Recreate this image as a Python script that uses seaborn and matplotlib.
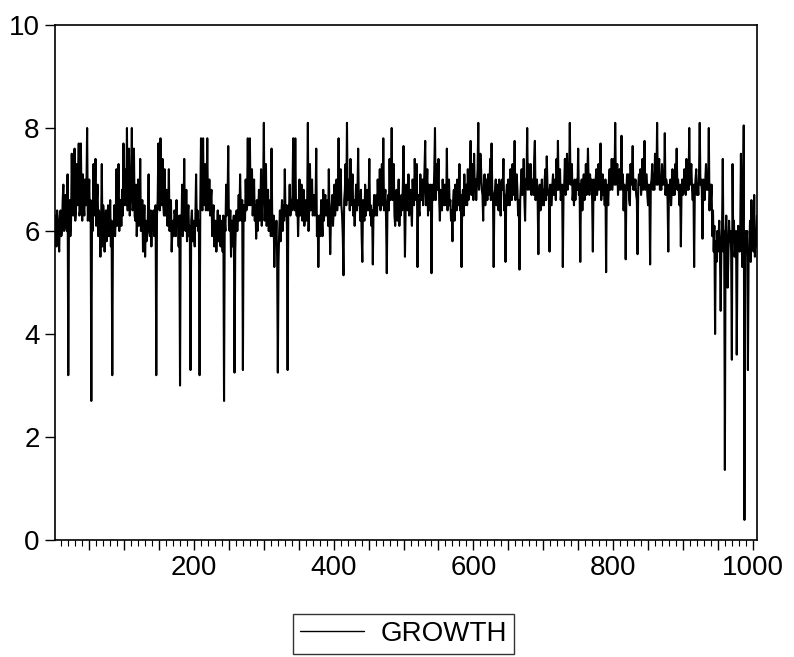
import numpy as np
import pandas as pd
import matplotlib
matplotlib.use("Agg")
import matplotlib.pyplot as plt
from matplotlib.ticker import MultipleLocator, FuncFormatter
import seaborn as sns

obs_001_100 = [6.3, 5.9, 5.7, 6.4, 6.2, 5.8, 5.6, 6.3, 6.4, 5.9,
               6.0, 6.6, 6.9, 6.0, 6.1, 6.7, 6.5, 6.0, 7.1, 3.2,
               6.2, 6.6, 5.9, 6.2, 7.5, 6.4, 6.3, 7.0, 7.6, 6.2,
               6.4, 7.3, 6.5, 6.9, 7.7, 6.3, 6.4, 7.7, 6.6, 6.2,
               7.1, 6.5, 6.3, 7.0, 6.5, 6.8, 8.0, 6.2, 6.5, 7.0,
               6.2, 6.6, 2.7, 6.4, 6.0, 7.3, 6.3, 6.7, 7.4, 6.1,
               6.6, 6.9, 5.9, 6.4, 6.2, 5.5, 6.1, 7.3, 5.7, 6.5,
               6.3, 5.6, 6.0, 6.4, 5.8, 6.2, 6.5, 5.9, 6.0, 6.6,
               5.7, 6.2, 3.2, 6.1, 6.0, 6.5, 5.9, 6.3, 7.2, 6.1,
               6.6, 7.3, 6.0, 6.4, 6.6, 6.1, 6.8, 6.3, 7.7, 6.5]
obs_101_200 = [7.2, 6.6, 6.5, 8.0, 6.4, 6.7, 7.6, 6.3, 6.6, 6.9,
               8.0, 6.4, 6.5, 7.6, 6.3, 6.2, 6.9, 5.9, 6.3, 7.0,
               6.1, 6.4, 7.4, 6.0, 6.2, 6.6, 5.6, 6.0, 6.5, 5.5,
               6.2, 5.8, 5.9, 6.3, 7.1, 6.0, 5.9, 6.4, 5.7, 6.3,
               6.0, 6.4, 5.9, 6.2, 6.5, 3.2, 6.3, 6.6, 7.7, 6.5,
               6.4, 7.8, 6.6, 6.5, 7.4, 6.5, 6.3, 7.2, 6.3, 6.6,
               6.8, 6.1, 6.4, 7.2, 6.0, 6.3, 6.6, 5.6, 6.0, 6.2,
               5.9, 6.4, 6.3, 5.9, 6.6, 6.1, 6.2, 5.7, 6.3, 3.0,
               6.3, 6.0, 6.9, 5.9, 6.2, 7.4, 6.2, 6.0, 6.8, 5.8,
               6.3, 6.5, 5.9, 6.1, 3.3, 6.2, 6.4, 5.8, 6.2, 6.0]
obs_201_300 = [5.7, 6.3, 7.1, 6.1, 6.4, 6.0, 6.2, 3.2, 6.5, 7.8,
               6.6, 6.4, 7.8, 6.5, 6.8, 7.3, 6.4, 6.6, 7.8, 6.4,
               6.5, 7.0, 6.3, 6.6, 6.8, 5.9, 6.3, 6.5, 5.7, 6.1,
               6.2, 5.6, 6.0, 6.4, 5.8, 6.1, 6.3, 5.7, 6.2, 6.0,
               5.6, 6.3, 2.7, 6.2, 6.0, 6.9, 6.3, 6.5, 7.65, 6.1,
               6.0, 6.4, 5.5, 6.2, 5.7, 6.1, 6.3, 3.25, 5.6, 6.2,
               6.4, 6.0, 6.3, 6.7, 6.2, 7.1, 6.4, 6.2, 6.6, 3.3,
               6.5, 6.3, 6.2, 7.0, 6.4, 6.6, 7.8, 6.5, 6.6, 7.8,
               6.5, 6.8, 7.2, 6.3, 6.6, 7.0, 6.2, 6.5, 5.85, 6.6,
               6.0, 6.4, 6.8, 6.2, 6.5, 7.2, 6.1, 6.6, 6.9, 8.1]
obs_301_400 = [6.2, 6.5, 7.3, 6.1, 6.4, 6.8, 6.0, 6.3, 6.6, 5.9,
               7.6, 6.2, 5.9, 6.3, 5.3, 6.1, 5.8, 6.2, 5.5, 3.25,
               5.4, 6.0, 6.4, 5.8, 6.3, 6.6, 6.0, 6.5, 6.2, 7.2,
               6.3, 6.5, 6.1, 3.3, 6.5, 6.4, 6.9, 6.3, 6.6, 6.4,
               6.7, 7.8, 6.6, 6.4, 7.8, 6.5, 6.3, 6.6, 5.9, 6.4,
               7.0, 6.3, 6.6, 6.9, 6.2, 6.5, 6.8, 6.1, 6.4, 6.6,
               6.2, 6.5, 8.1, 6.0, 6.5, 7.3, 6.4, 6.6, 7.0, 6.3,
               6.4, 6.7, 6.3, 6.5, 7.6, 5.9, 6.3, 5.3, 6.1, 6.3,
               5.9, 6.6, 6.2, 5.9, 6.8, 6.2, 6.5, 6.7, 6.3, 6.4,
               6.6, 6.1, 7.2, 6.3, 5.55, 6.2, 6.5, 6.7, 6.1, 6.4]
obs_401_500 = [6.9, 6.3, 6.6, 7.0, 6.4, 6.7, 7.8, 6.5, 6.6, 7.2,
               6.5, 6.3, 5.9, 5.14, 6.6, 6.8, 7.3, 6.5, 8.1, 6.6,
               6.7, 7.0, 6.4, 7.4, 6.5, 6.8, 7.1, 6.3, 6.6, 6.1,
               6.5, 6.9, 6.4, 6.7, 7.6, 6.5, 6.6, 6.2, 6.8, 5.9,
               5.4, 6.6, 6.3, 6.2, 6.9, 6.3, 6.6, 6.8, 6.4, 6.6,
               7.4, 6.3, 6.5, 6.1, 6.4, 5.35, 6.4, 6.7, 6.3, 6.5,
               6.7, 6.3, 7.0, 6.5, 6.6, 7.2, 6.4, 6.8, 7.3, 6.5,
               7.8, 6.4, 6.6, 6.8, 6.2, 5.18, 6.5, 6.7, 6.4, 7.4,
               6.6, 6.9, 8.0, 6.6, 6.7, 7.3, 6.3, 6.1, 6.5, 6.8,
               6.2, 6.5, 7.0, 6.1, 6.6, 6.3, 6.7, 6.4, 6.9, 7.65]
obs_501_600 = [6.5, 5.5, 6.4, 6.9, 6.6, 6.4, 7.1, 6.3, 6.7, 6.8,
               6.4, 6.1, 7.0, 6.6, 6.5, 7.4, 6.8, 6.6, 7.3, 5.3,
               6.7, 6.4, 6.3, 7.1, 6.6, 6.7, 7.0, 6.5, 6.8, 7.2,
               7.75, 6.5, 6.8, 7.2, 6.3, 6.9, 6.6, 6.4, 6.9, 5.18,
               6.7, 6.9, 6.6, 7.2, 8.0, 6.6, 6.9, 7.3, 6.8, 7.4,
               6.6, 6.2, 6.8, 6.5, 6.4, 7.0, 6.6, 6.5, 6.9, 6.7,
               6.5, 7.6, 6.4, 6.8, 7.0, 6.5, 6.6, 6.2, 6.4, 5.8,
               6.6, 6.8, 6.2, 6.9, 6.7, 6.4, 7.0, 6.6, 6.5, 7.3,
               6.4, 6.7, 5.3, 6.6, 6.8, 6.3, 7.1, 6.5, 6.7, 6.9,
               6.5, 7.2, 6.6, 6.8, 7.2, 7.75, 6.7, 6.9, 7.3, 6.6]
obs_601_700 = [7.5, 6.8, 7.0, 6.6, 6.9, 7.2, 8.1, 6.8, 7.0, 7.5,
               7.2, 6.8, 6.7, 6.2, 6.9, 7.1, 6.5, 6.8, 7.0, 6.6,
               7.1, 6.7, 6.8, 7.4, 6.6, 7.7, 6.8, 6.7, 5.3, 6.6,
               6.8, 7.0, 6.5, 6.9, 6.6, 6.4, 7.0, 6.7, 6.3, 6.9,
               7.0, 6.8, 7.4, 6.4, 6.7, 5.4, 6.7, 6.9, 6.5, 7.0,
               6.6, 6.5, 7.2, 6.8, 6.6, 7.3, 6.7, 6.9, 7.75, 6.6,
               6.7, 7.1, 6.8, 6.3, 6.6, 5.25, 6.6, 6.9, 7.2, 6.7,
               6.8, 7.4, 6.6, 6.2, 7.0, 6.9, 8.0, 6.8, 7.3, 6.9,
               6.8, 7.3, 6.7, 7.0, 6.9, 6.7, 7.4, 7.75, 6.6, 6.9,
               7.0, 6.6, 5.55, 6.7, 6.9, 6.4, 6.6, 7.0, 6.5, 6.8]
obs_701_800 = [6.5, 7.0, 7.2, 6.6, 7.45, 6.9, 6.7, 6.8, 5.6, 6.9,
               6.7, 6.5, 6.9, 7.1, 6.7, 6.8, 7.0, 6.6, 7.4, 6.8,
               7.75, 6.8, 6.9, 7.2, 6.6, 6.8, 6.9, 5.3, 6.7, 6.9,
               7.4, 6.7, 6.9, 7.5, 6.8, 7.1, 7.0, 8.1, 6.9, 7.1,
               7.3, 6.6, 6.8, 6.5, 7.0, 6.6, 6.9, 7.0, 6.8, 7.6,
               6.7, 6.9, 5.4, 6.8, 7.0, 6.4, 6.9, 7.1, 6.6, 6.8,
               7.3, 6.7, 7.0, 7.6, 6.9, 6.7, 7.1, 6.8, 7.0, 6.6,
               5.6, 7.0, 6.8, 6.6, 7.0, 7.2, 6.7, 6.9, 7.3, 6.8,
               7.0, 7.7, 6.6, 6.9, 7.1, 6.7, 6.8, 6.5, 7.0, 5.2,
               6.9, 6.7, 6.5, 7.0, 7.2, 6.8, 6.9, 7.4, 6.8, 7.1]
obs_801_900 = [7.4, 6.9, 8.1, 6.9, 7.1, 7.3, 6.7, 7.0, 7.2, 6.8,
               7.0, 7.85, 6.8, 7.1, 6.4, 6.9, 6.8, 5.45, 6.8, 7.1,
               6.8, 7.1, 6.6, 6.5, 7.3, 6.9, 7.0, 7.65, 6.8, 7.0,
               6.8, 7.0, 6.7, 6.6, 5.55, 6.9, 7.1, 6.9, 7.2, 6.7,
               6.9, 7.4, 6.8, 7.0, 7.75, 6.8, 7.1, 7.1, 6.7, 6.5,
               6.9, 6.7, 5.35, 6.9, 7.0, 7.3, 6.8, 7.1, 6.8, 7.5,
               7.0, 6.9, 8.1, 6.9, 7.2, 7.4, 6.8, 7.0, 6.8, 7.3,
               6.9, 7.1, 6.9, 7.9, 6.7, 7.0, 6.9, 6.6, 5.6, 6.9,
               6.8, 7.0, 6.5, 6.8, 7.2, 6.7, 7.0, 6.7, 7.3, 6.9,
               7.6, 6.8, 7.0, 6.8, 6.5, 6.9, 5.7, 6.8, 7.0, 6.7]
obs_901_1006 = [6.9, 7.2, 6.8, 6.7, 7.4, 6.8, 7.0, 6.8, 8.0, 6.9,
                7.1, 7.3, 6.8, 6.6, 6.9, 5.3, 6.8, 7.0, 7.2, 6.7,
                6.9, 6.7, 7.1, 8.1, 6.9, 7.0, 6.8, 5.85, 7.0, 6.9,
                6.6, 7.0, 7.3, 6.8, 7.0, 6.8, 8.0, 6.4, 6.9, 6.6,
                6.9, 5.9, 6.4, 5.6, 6.1, 4.0, 5.8, 5.4, 6.0, 5.6,
                5.9, 6.2, 5.5, 4.45, 5.7, 6.1, 7.4, 5.6, 6.0, 1.36,
                5.9, 6.3, 5.7, 4.9, 5.5, 6.2, 5.8, 6.0, 5.6, 3.5,
                7.3, 5.8, 6.2, 5.5, 5.8, 6.0, 3.6, 5.5, 6.1, 5.7,
                5.6, 6.0, 7.5, 5.8, 5.3, 6.2, 8.05, 0.39, 5.5, 6.0,
                5.8, 6.0, 3.3, 5.5, 5.6, 6.2, 5.4, 6.6, 5.9, 6.1,
                5.6, 6.7, 5.5, 6.0, 5.7, 6.3]

growth = np.array(obs_001_100 + obs_101_200 + obs_201_300 + obs_301_400 +
                  obs_401_500 + obs_501_600 + obs_601_700 + obs_701_800 +
                  obs_801_900 + obs_901_1006)
obs = np.arange(1, len(growth) + 1)
df = pd.DataFrame({"obs": obs, "GROWTH": growth})

sns.set_style("ticks")
plt.rcParams["font.family"] = ["Liberation Sans", "DejaVu Sans"]
plt.rcParams["text.color"] = "black"
plt.rcParams["axes.labelcolor"] = "black"

fig = plt.figure(figsize=(7.94, 6.57), dpi=100)
ax = fig.add_axes([55 / 794, 1 - 540 / 657, (757 - 55) / 794, (540 - 25) / 657])

sns.lineplot(data=df, x="obs", y="GROWTH", color="black", linewidth=1.5,
             ax=ax, label="GROWTH", legend=False)

ax.set_xlim(1, len(growth))
ax.set_ylim(0, 10)
ax.set_xlabel("")
ax.set_ylabel("")

for s in ax.spines.values():
    s.set_visible(True)
    s.set_color("black")
    s.set_linewidth(1.2)

ax.yaxis.set_major_locator(MultipleLocator(2))
ax.xaxis.set_major_locator(MultipleLocator(50))
ax.xaxis.set_minor_locator(MultipleLocator(10))
ax.xaxis.set_major_formatter(FuncFormatter(
    lambda v, p: f"{int(round(v))}" if (round(v) % 200 == 0 and round(v) > 0) else ""))

ax.tick_params(axis="y", which="major", direction="out", length=7, width=1.0,
               labelsize=20, pad=4, colors="black")
ax.tick_params(axis="x", which="major", direction="out", length=7, width=1.0,
               labelsize=20, pad=4, colors="black")
ax.tick_params(axis="x", which="minor", direction="out", length=4, width=0.8,
               colors="black")

leg = ax.legend(loc="center", bbox_to_anchor=(0.508, 0.035),
                bbox_transform=fig.transFigure, frameon=True, fancybox=False,
                edgecolor="black", fontsize=20, handlelength=2.3,
                handletextpad=0.6, borderpad=0.25, borderaxespad=0)
leg.get_frame().set_linewidth(1.0)
leg.get_frame().set_boxstyle("square", pad=0.0)
for t in leg.get_texts():
    t.set_color("black")
for h in leg.get_lines():
    h.set_linewidth(1.0)

fig.savefig("out.png", dpi=100, facecolor="white")
